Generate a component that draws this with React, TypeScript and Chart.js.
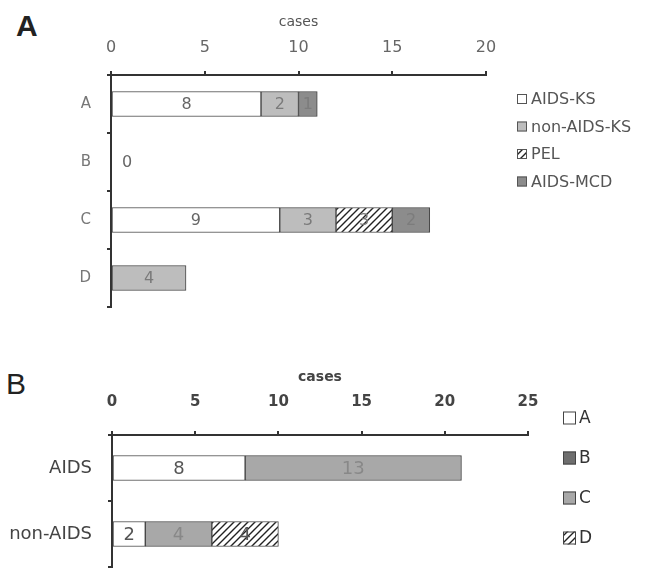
import React, { useEffect, useRef } from "react";
import { Chart, registerables } from "chart.js";

Chart.register(...registerables);

// ---------- Panel A data ----------
const categoriesA = ["A", "B", "C", "D"];
const seriesNamesA = ["AIDS-KS", "non-AIDS-KS", "PEL", "AIDS-MCD"];
const aidsKS = [8, 0, 9, null];
const nonAidsKS = [2, null, 3, 4];
const pel = [null, null, 3, null];
const aidsMCD = [1, null, 2, null];
const ticksA = [0, 5, 10, 15, 20];

// ---------- Panel B data ----------
const categoriesB = ["AIDS", "non-AIDS"];
const seriesNamesB = ["A", "B", "C", "D"];
const groupA = [8, 2];
const groupB = [null, null];
const groupC = [13, 4];
const groupD = [null, 4];
const ticksB = [0, 5, 10, 15, 20, 25];

const F = "'DejaVu Sans', 'Open Sans', sans-serif";

function hatch(): CanvasPattern {
  const c = document.createElement("canvas");
  c.width = 7;
  c.height = 7;
  const g = c.getContext("2d")!;
  g.fillStyle = "#fff";
  g.fillRect(0, 0, 7, 7);
  g.strokeStyle = "#222";
  g.lineWidth = 1.4;
  g.beginPath();
  g.moveTo(0, 7);
  g.lineTo(7, 0);
  g.moveTo(-1, 1);
  g.lineTo(1, -1);
  g.moveTo(6, 8);
  g.lineTo(8, 6);
  g.stroke();
  return g.createPattern(c, "repeat")!;
}

const valueLabels = {
  id: "valueLabels",
  afterDatasetsDraw(chart: any, _a: any, o: any) {
    const ctx = chart.ctx;
    chart.data.datasets.forEach((ds: any, i: number) => {
      const meta = chart.getDatasetMeta(i);
      meta.data.forEach((el: any, j: number) => {
        const v = ds.data[j];
        if (v === null || v === undefined) return;
        ctx.save();
        ctx.font = o.font;
        ctx.fillStyle = ds.labelColor;
        ctx.textAlign = "center";
        ctx.textBaseline = "middle";
        let x: number, y: number;
        if (v === 0) {
          x = el.base + o.zeroOffset;
          y = el.y;
        } else {
          const p = el.getCenterPoint();
          x = p.x;
          y = p.y;
        }
        ctx.fillText(String(v), x, y + 1);
        ctx.restore();
      });
    });
  },
};

const boxLegend = {
  id: "boxLegend",
  afterDraw(chart: any, _a: any, o: any) {
    const ctx = chart.ctx;
    chart.data.datasets.forEach((ds: any, i: number) => {
      const y = o.y + i * o.gap;
      ctx.save();
      ctx.fillStyle = ds.backgroundColor;
      ctx.fillRect(o.x, y - o.box / 2, o.box, o.box);
      ctx.strokeStyle = o.border;
      ctx.lineWidth = 1;
      ctx.strokeRect(o.x + 0.5, y - o.box / 2 + 0.5, o.box - 1, o.box - 1);
      ctx.fillStyle = o.color;
      ctx.font = o.font;
      ctx.textBaseline = "middle";
      ctx.textAlign = "left";
      ctx.fillText(ds.label, o.x + o.box + o.textGap, y + 1);
      ctx.restore();
    });
  },
};

function axisGrid(offset: boolean) {
  return {
    drawOnChartArea: false,
    drawTicks: true,
    tickLength: 4,
    color: "#333",
    lineWidth: 2,
    offset,
  };
}

function fixWidth(w: number) {
  return (s: any) => {
    s.width = w;
    s.paddingTop = 0;
    s.paddingBottom = 0;
  };
}

export default function App() {
  const refA = useRef<HTMLCanvasElement>(null);
  const refB = useRef<HTMLCanvasElement>(null);

  useEffect(() => {
    const pat = hatch();
    const common = {
      borderColor: "#444",
      borderWidth: 1,
      borderSkipped: false,
      barThickness: 25,
    };
    const chartA = new Chart(refA.current!, {
      type: "bar",
      data: {
        labels: categoriesA,
        datasets: [
          { label: seriesNamesA[0], data: aidsKS, backgroundColor: "#ffffff", labelColor: "#666", ...common },
          { label: seriesNamesA[1], data: nonAidsKS, backgroundColor: "#bdbdbd", labelColor: "#7a7a7a", ...common },
          { label: seriesNamesA[2], data: pel, backgroundColor: pat, labelColor: "#777", ...common },
          { label: seriesNamesA[3], data: aidsMCD, backgroundColor: "#8c8c8c", labelColor: "#7c7c7c", ...common },
        ] as any,
      },
      options: {
        indexAxis: "y",
        responsive: false,
        animation: false,
        events: [],
        layout: { padding: { left: 31, top: 0, right: 160, bottom: 13 } },
        scales: {
          x: {
            position: "top",
            stacked: true,
            min: ticksA[0],
            max: ticksA[ticksA.length - 1],
            ticks: { stepSize: ticksA[1] - ticksA[0], color: "#666", font: { family: F, size: 16 }, padding: 14 },
            grid: axisGrid(false),
            border: { display: true, color: "#333", width: 2 },
            title: { display: true, text: "cases", color: "#555", font: { family: F, size: 14 }, padding: { top: 14, bottom: 0 } },
            afterFit: (s: any) => { s.height = 75; },
          },
          y: {
            stacked: true,
            ticks: { color: "#777", font: { family: F, size: 15 }, padding: 16 },
            grid: axisGrid(true),
            border: { display: true, color: "#333", width: 2 },
            afterFit: fixWidth(80),
          },
        },
        plugins: {
          legend: { display: false },
          tooltip: { enabled: false },
          valueLabels: { font: `16px ${F}`, zeroOffset: 16 },
          boxLegend: { x: 517, y: 99, gap: 27.5, box: 10, textGap: 4, border: "#555", color: "#555", font: `16px ${F}` },
        } as any,
      } as any,
      plugins: [valueLabels, boxLegend],
    });

    const chartB = new Chart(refB.current!, {
      type: "bar",
      data: {
        labels: categoriesB,
        datasets: [
          { label: seriesNamesB[0], data: groupA, backgroundColor: "#ffffff", labelColor: "#555", ...common },
          { label: seriesNamesB[1], data: groupB, backgroundColor: "#6e6e6e", labelColor: "#555", ...common },
          { label: seriesNamesB[2], data: groupC, backgroundColor: "#a8a8a8", labelColor: "#888", ...common },
          { label: seriesNamesB[3], data: groupD, backgroundColor: pat, labelColor: "#555", ...common },
        ] as any,
      },
      options: {
        indexAxis: "y",
        responsive: false,
        animation: false,
        events: [],
        layout: { padding: { left: 2, top: 0, right: 118, bottom: 2 } },
        scales: {
          x: {
            position: "top",
            stacked: true,
            min: ticksB[0],
            max: ticksB[ticksB.length - 1],
            ticks: { stepSize: ticksB[1] - ticksB[0], color: "#444", font: { family: F, size: 15, weight: "bold" }, padding: 20 },
            grid: axisGrid(false),
            border: { display: true, color: "#333", width: 2 },
            title: { display: true, text: "cases", color: "#444", font: { family: F, size: 14, weight: "bold" }, padding: { top: 19, bottom: 0 } },
            afterFit: (s: any) => { s.height = 85; },
          },
          y: {
            stacked: true,
            ticks: { color: "#444", font: { family: F, size: 18 }, padding: 16 },
            grid: axisGrid(true),
            border: { display: true, color: "#333", width: 2 },
            afterFit: fixWidth(110),
          },
        },
        plugins: {
          legend: { display: false },
          tooltip: { enabled: false },
          valueLabels: { font: `18px ${F}`, zeroOffset: 16 },
          boxLegend: { x: 563, y: 68, gap: 40, box: 13, textGap: 3, border: "#444", color: "#333", font: `17px ${F}` },
        } as any,
      } as any,
      plugins: [valueLabels, boxLegend],
    });

    return () => {
      chartA.destroy();
      chartB.destroy();
    };
  }, []);

  return (
    <div style={{ position: "absolute", left: 0, top: 0, width: 646, height: 569, background: "#fff", overflow: "hidden" }}>
      <div style={{ position: "absolute", left: 16, top: 11, font: "bold 30px 'Liberation Sans', Arial, sans-serif", lineHeight: 1, color: "#222" }}>A</div>
      <div style={{ position: "absolute", left: 6, top: 369, font: "30px 'Liberation Sans', Arial, sans-serif", lineHeight: 1, color: "#222" }}>B</div>
      <canvas ref={refA} width={646} height={320} style={{ position: "absolute", left: 0, top: 0, width: 646, height: 320 }} />
      <canvas ref={refB} width={646} height={219} style={{ position: "absolute", left: 0, top: 350, width: 646, height: 219 }} />
    </div>
  );
}
